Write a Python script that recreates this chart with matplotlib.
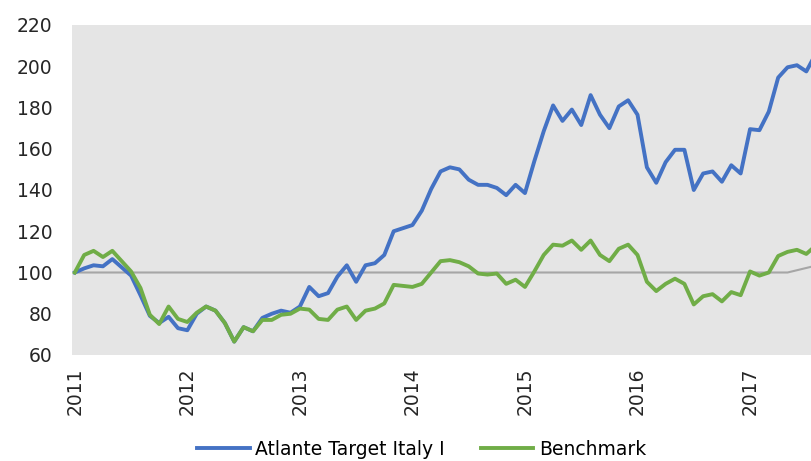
import matplotlib.pyplot as plt
import numpy as np

plt.rcParams['font.family'] = 'DejaVu Sans'

years = ['2011', '2012', '2013', '2014', '2015', '2016', '2017']

# monthly index values (month 0 = start of 2011)
atlante = [100, 102, 103.5, 103, 106.5, 102.5, 98.5, 89, 79, 75.5, 78.5, 73, 72,
           80, 83.5, 81.5, 75.5, 66.5, 73.5, 71.5, 78, 80, 81.5, 80.5, 83.5,
           93, 88.5, 90, 98, 103.5, 95.5, 103.5, 104.5, 108.5, 120, 121.5, 123,
           130, 140.5, 149, 151, 150, 145, 142.5, 142.5, 141, 137.5, 142.5, 138.5,
           154, 168.5, 181, 173.5, 179, 171.5, 186, 176.5, 170, 180.5, 183.5, 176.5,
           151, 143.5, 153.5, 159.5, 159.5, 140, 148, 149, 144, 152, 148,
           169.5, 169, 178, 194.5, 199.5, 200.5, 197.5, 206]

benchmark = [100, 108.5, 110.5, 107.5, 110.5, 105.5, 100.5, 92.5, 79.5, 75, 83.5, 77.5, 76,
             80.5, 83.5, 81.5, 75.5, 66.5, 73.5, 71.5, 77, 77, 79.5, 80, 82.5,
             82, 77.5, 77, 82, 83.5, 77, 81.5, 82.5, 85, 94, 93.5, 93,
             94.5, 100, 105.5, 106, 105, 103, 99.5, 99, 99.5, 94.5, 96.5, 93,
             100.5, 108.5, 113.5, 113, 115.5, 111, 115.5, 108.5, 105.5, 111.5, 113.5, 108.5,
             95.5, 91, 94.5, 97, 94.5, 84.5, 88.5, 89.5, 86, 90.5, 89,
             100.5, 98.5, 100, 108, 110, 111, 109, 113]

hurdle = [100] * 77 + [101.1, 102.2, 103.3]

months = np.arange(len(atlante))

fig = plt.figure(figsize=(8.11, 4.61), dpi=100)
ax = fig.add_axes([72 / 811, 106 / 461, 739 / 811, 330 / 461])
ax.set_facecolor('#E5E5E5')

ax.plot(months, hurdle, color='#A6A6A6', linewidth=1.5)
l1, = ax.plot(months, atlante, color='#4472C4', linewidth=2.8, label='Atlante Target Italy I')
l2, = ax.plot(months, benchmark, color='#70AD47', linewidth=2.8, label='Benchmark')

ax.set_xlim(-0.3, 78.5)
ax.set_ylim(60, 220)
ax.set_yticks(np.arange(60, 221, 20))
ax.set_xticks(np.arange(0, 73, 12), years, rotation=90)
ax.tick_params(axis='both', length=0, labelsize=13.5, colors='#262626')
ax.tick_params(axis='y', pad=14)
ax.tick_params(axis='x', pad=9)
for s in ax.spines.values():
    s.set_visible(False)

# legend sits at the very bottom edge, as in the original
fig.legend(handles=[l1, l2], loc='center', bbox_to_anchor=(0.52, 0.025),
           ncols=2, frameon=False, fontsize=13.5, handlelength=2.8,
           handletextpad=0.3, columnspacing=1.9)

plt.savefig('out.png', dpi=100)
